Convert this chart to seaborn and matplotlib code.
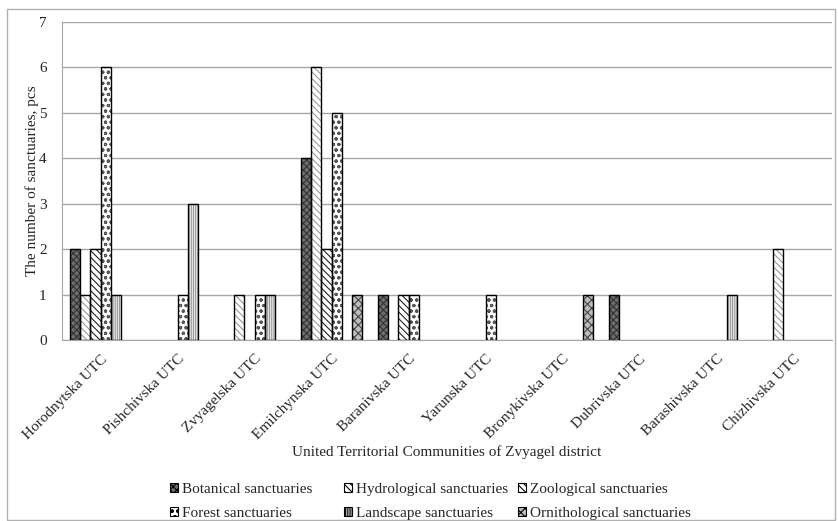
import pandas as pd
import seaborn as sns
import matplotlib.pyplot as plt
from matplotlib.patches import Rectangle, Patch

# communities on the x axis
communities = ['Horodnytska UTC', 'Pishchivska UTC', 'Zvyagelska UTC', 'Emilchynska UTC',
               'Baranivska UTC', 'Yarunska UTC', 'Bronykivska UTC', 'Dubrivska UTC',
               'Barashivska UTC', 'Chizhivska UTC']

botanical = [2, 0, 0, 4, 1, 0, 0, 1, 0, 0]
hydrological = [1, 0, 1, 6, 0, 0, 0, 0, 0, 2]
zoological = [2, 0, 0, 2, 1, 0, 0, 0, 0, 0]
forest = [6, 1, 1, 5, 1, 1, 0, 0, 0, 0]
landscape = [1, 3, 1, 0, 0, 0, 0, 0, 1, 0]
ornithological = [0, 0, 0, 1, 0, 0, 1, 0, 0, 0]

series_names = ['Botanical sanctuaries', 'Hydrological sanctuaries', 'Zoological sanctuaries',
                'Forest sanctuaries', 'Landscape sanctuaries', 'Ornithological sanctuaries']
series_vals = [botanical, hydrological, zoological, forest, landscape, ornithological]

# look of each series (fill, hatch, hatch colour)
styles = [('#6e6e6e', 'xxxxx', '#333333'),
          ('white', '\\\\\\\\\\', '#9a9a9a'),
          ('white', '\\\\\\\\\\', '#222222'),
          ('white', 'ooo', '#555555'),
          ('white', '|||||||||', '#9a9a9a'),
          ('#bdbdbd', 'xxxx', '#444444')]

rows = []
for name, vals in zip(series_names, series_vals):
    for c, v in zip(communities, vals):
        rows.append({'Community': c, 'Type': name, 'Count': v})
df = pd.DataFrame(rows)

sns.set_style('white')
plt.rcParams['font.family'] = ['Liberation Serif', 'DejaVu Serif']
plt.rcParams['hatch.linewidth'] = 0.8
fs = 11

fig = plt.figure(figsize=(8.38, 5.21), dpi=100)
ax = fig.add_axes([62 / 838, 1 - 340 / 521, 770 / 838, 318 / 521])

sns.barplot(data=df, x='Community', y='Count', hue='Type', order=communities,
            hue_order=series_names, width=0.8, ax=ax, legend=False, errorbar=None)

for cont, (fc, hatch, hc) in zip(ax.containers, styles):
    for bar in cont:
        bar.set_facecolor(fc)
        bar.set_hatch(hatch)
        bar.set_edgecolor(hc)
        bar.set_linewidth(0)
        if bar.get_height() == 0:
            bar.set_visible(False)
        else:
            # black outline drawn on top
            ax.add_patch(Rectangle(bar.get_xy(), bar.get_width(), bar.get_height(),
                                   fill=False, edgecolor='black', linewidth=1, zorder=3))

ax.set_ylim(0, 7)
ax.set_xlim(-0.5, 9.5)
ax.set_yticks(range(0, 8))
ax.yaxis.grid(True, color='#a6a6a6', linewidth=1)
ax.set_axisbelow(True)
for s in ['top', 'right']:
    ax.spines[s].set_visible(False)
ax.spines['left'].set_color('#a6a6a6')
ax.spines['bottom'].set_color('#a6a6a6')

ax.set_xticks(range(len(communities)))
ax.set_xticklabels(communities, rotation=45, ha='right', rotation_mode='anchor', fontsize=fs)
ax.set_xticks([i - 0.5 for i in range(len(communities) + 1)], minor=True)
ax.tick_params(axis='x', which='major', length=0, pad=9)
ax.tick_params(axis='x', which='minor', length=5, color='#a6a6a6', direction='out')
ax.tick_params(axis='y', length=5, color='#a6a6a6', direction='out', labelsize=fs, pad=6)

ax.set_xlabel('United Territorial Communities of Zvyagel district', fontsize=fs, labelpad=2)
ax.set_ylabel('The number of sanctuaries, pcs', fontsize=fs, labelpad=0)

# legend, one small legend per column like the original
handles = []
for name, (fc, hatch, hc) in zip(series_names, styles):
    handles.append(Patch(facecolor=fc, hatch=hatch, edgecolor='black', linewidth=0.8, label=name))
col_x = [159, 333, 507]
for k, x0 in enumerate(col_x):
    idx = [k, k + 3]
    fig.legend([handles[i] for i in idx], [series_names[i] for i in idx],
               loc='lower left', bbox_to_anchor=(x0 / 838, -0.018), ncol=1, frameon=False,
               fontsize=fs, handlelength=0.55, handleheight=0.55, handletextpad=0.25,
               labelspacing=0.7, borderaxespad=0.3)

# thin frame around the whole chart
fig.patches.append(Rectangle((7 / 838, 0.002), 828 / 838, 1 - 9 / 521 - 0.002,
                             transform=fig.transFigure, fill=False,
                             edgecolor='#b0b0b0', linewidth=1))

fig.savefig('out.png', dpi=100)
